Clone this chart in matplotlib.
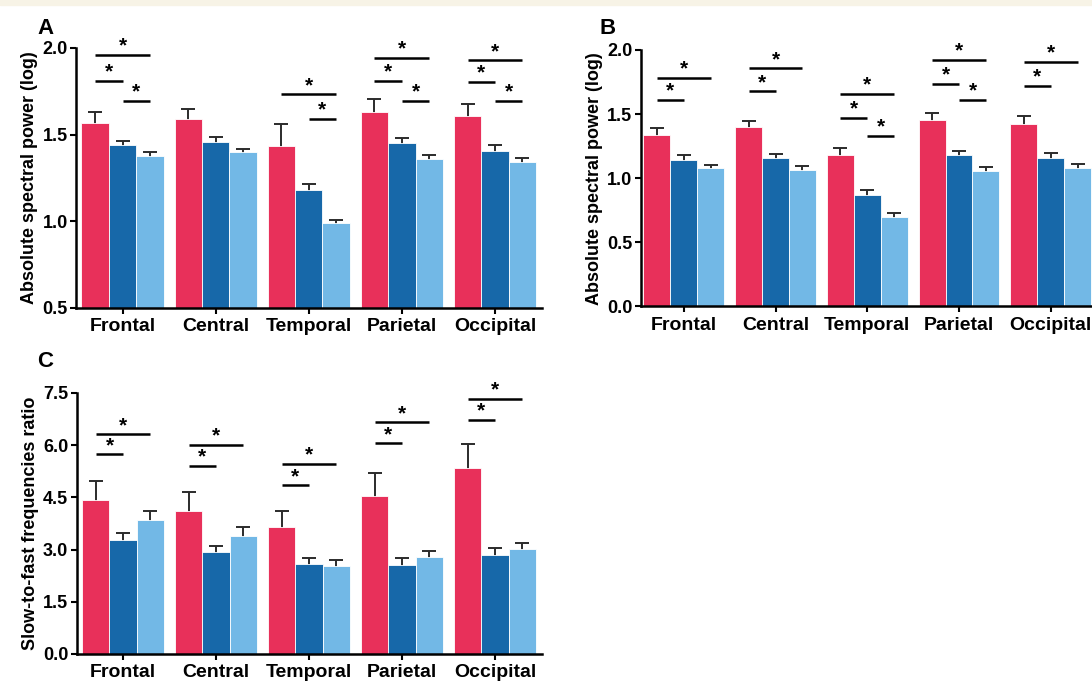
import numpy as np
import matplotlib
matplotlib.use('Agg')
import matplotlib.pyplot as plt
from matplotlib.patches import Rectangle

plt.rcParams['font.family'] = ['Liberation Sans', 'DejaVu Sans']
plt.rcParams['font.weight'] = 'bold'
plt.rcParams['axes.labelweight'] = 'bold'

regions = ['Frontal', 'Central', 'Temporal', 'Parietal', 'Occipital']
colors = ['#e8305a', '#1768a9', '#72b8e6']

# panel A: absolute spectral power (log), mean and upper error
a_g1 = [1.565, 1.588, 1.434, 1.630, 1.607]
a_g2 = [1.440, 1.457, 1.179, 1.449, 1.407]
a_g3 = [1.377, 1.398, 0.993, 1.361, 1.342]
a_g1_err = [0.065, 0.062, 0.125, 0.073, 0.067]
a_g2_err = [0.025, 0.029, 0.036, 0.029, 0.031]
a_g3_err = [0.023, 0.019, 0.015, 0.023, 0.025]
# (region, bar from, bar to, height)
a_sig = [(0, 0, 2, 1.962), (0, 0, 1, 1.81), (0, 1, 2, 1.693),
         (2, 0, 2, 1.733), (2, 1, 2, 1.59),
         (3, 0, 2, 1.944), (3, 0, 1, 1.81), (3, 1, 2, 1.695),
         (4, 0, 2, 1.929), (4, 0, 1, 1.804), (4, 1, 2, 1.693)]

# panel B
b_g1 = [1.340, 1.397, 1.177, 1.455, 1.423]
b_g2 = [1.143, 1.158, 0.870, 1.177, 1.156]
b_g3 = [1.078, 1.062, 0.696, 1.057, 1.081]
b_g1_err = [0.050, 0.052, 0.062, 0.057, 0.063]
b_g2_err = [0.034, 0.032, 0.039, 0.036, 0.039]
b_g3_err = [0.026, 0.032, 0.034, 0.034, 0.031]
b_sig = [(0, 0, 2, 1.782), (0, 0, 1, 1.61),
         (1, 0, 2, 1.857), (1, 0, 1, 1.678),
         (2, 0, 2, 1.657), (2, 0, 1, 1.468), (2, 1, 2, 1.332),
         (3, 0, 2, 1.925), (3, 0, 1, 1.738), (3, 1, 2, 1.61),
         (4, 0, 2, 1.906), (4, 0, 1, 1.719)]

# panel C: slow-to-fast frequencies ratio
c_g1 = [4.434, 4.116, 3.663, 4.540, 5.350]
c_g2 = [3.278, 2.921, 2.574, 2.564, 2.853]
c_g3 = [3.837, 3.403, 2.516, 2.776, 3.008]
c_g1_err = [0.53, 0.54, 0.44, 0.67, 0.67]
c_g2_err = [0.19, 0.18, 0.17, 0.18, 0.20]
c_g3_err = [0.26, 0.24, 0.19, 0.19, 0.18]
c_sig = [(0, 0, 2, 6.314), (0, 0, 1, 5.736),
         (1, 0, 2, 6.006), (1, 0, 1, 5.408),
         (2, 0, 2, 5.456), (2, 0, 1, 4.849),
         (3, 0, 2, 6.652), (3, 0, 1, 6.054),
         (4, 0, 2, 7.326), (4, 0, 1, 6.729)]

width = 0.294


def bar_panel(ax, groups, errs, sig, ylim, yticks, ylabel, xlim):
    x = np.arange(len(regions))
    for k, (vals, err) in enumerate(zip(groups, errs)):
        pos = x + (k - 1) * width
        # lower half of the error bar is hidden behind the bar
        ax.errorbar(pos, vals, yerr=err, fmt='none',
                    ecolor='#2b2b2b', elinewidth=1.4, capsize=4.8,
                    capthick=1.4, zorder=1)
        ax.bar(pos, vals, width, color=colors[k], edgecolor='white',
               linewidth=0.6, zorder=2)
    for r, i, j, y in sig:
        x0 = r + (i - 1) * width
        x1 = r + (j - 1) * width
        ax.plot([x0, x1], [y, y], color='k', lw=1.8, clip_on=False,
                solid_capstyle='butt')
        ax.annotate('*', ((x0 + x1) / 2, y), xytext=(0, -0.5),
                    textcoords='offset points', ha='center', va='bottom',
                    fontsize=15, annotation_clip=False)
    ax.set_xlim(*xlim)
    ax.set_ylim(*ylim)
    ax.set_yticks(yticks)
    ax.set_yticklabels([f'{t:.1f}' for t in yticks])
    ax.set_xticks(x)
    ax.set_xticklabels(regions)
    ax.set_ylabel(ylabel, fontsize=13, labelpad=3)
    for s in ['top', 'right']:
        ax.spines[s].set_visible(False)
    for s in ['left', 'bottom']:
        ax.spines[s].set_linewidth(1.8)
    ax.tick_params(axis='y', labelsize=13, width=1.5, length=4, pad=2)
    ax.tick_params(axis='x', labelsize=14, width=1.5, length=4.5, pad=3)


fig = plt.figure(figsize=(10.92, 6.85), dpi=100)
fig.patches.append(Rectangle((0, 0.993), 1, 0.007, transform=fig.transFigure,
                             color='#f7f3e6', zorder=-1))

ax_a = fig.add_axes([0.0696, 0.5504, 0.4263, 0.3796])
bar_panel(ax_a, [a_g1, a_g2, a_g3], [a_g1_err, a_g2_err, a_g3_err], a_sig,
          (0.5, 2.0), [0.5, 1.0, 1.5, 2.0], 'Absolute spectral power (log)',
          (-0.5, 4.5))

ax_b = fig.add_axes([0.5867, 0.5526, 0.4133, 0.3745])
bar_panel(ax_b, [b_g1, b_g2, b_g3], [b_g1_err, b_g2_err, b_g3_err], b_sig,
          (0.0, 2.0), [0.0, 0.5, 1.0, 1.5, 2.0], 'Absolute spectral power (log)',
          (-0.47, 4.45))

ax_c = fig.add_axes([0.0702, 0.0453, 0.4257, 0.381])
bar_panel(ax_c, [c_g1, c_g2, c_g3], [c_g1_err, c_g2_err, c_g3_err], c_sig,
          (0.0, 7.5), [0.0, 1.5, 3.0, 4.5, 6.0, 7.5],
          'Slow-to-fast frequencies ratio', (-0.5, 4.5))

fig.text(0.034, 0.958, 'A', fontsize=16, ha='left', va='center')
fig.text(0.549, 0.958, 'B', fontsize=16, ha='left', va='center')
fig.text(0.034, 0.472, 'C', fontsize=16, ha='left', va='center')

fig.savefig('out.png', dpi=100)
